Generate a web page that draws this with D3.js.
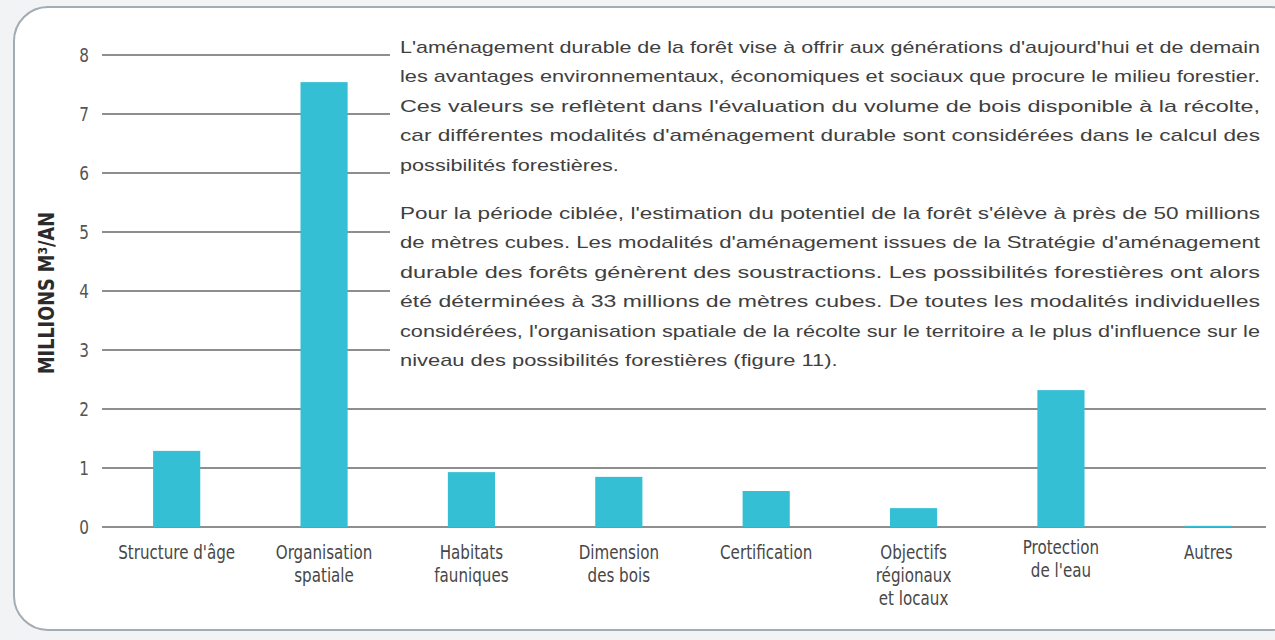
<!DOCTYPE html>
<html><head><meta charset="utf-8">
<script src="https://cdn.jsdelivr.net/npm/d3@7"></script>
<style>
html,body{margin:0;padding:0;background:#f1f3f5;}
svg{display:block;}
</style></head>
<body>
<svg id="chart" width="1275" height="640"></svg>
<script>
// ---- data ----
const categories = ["Structure d'âge", "Organisation spatiale", "Habitats fauniques", "Dimension des bois", "Certification", "Objectifs régionaux et locaux", "Protection de l'eau", "Autres"];
const categoryLines = [["Structure d'âge"], ["Organisation", "spatiale"], ["Habitats", "fauniques"], ["Dimension", "des bois"], ["Certification"], ["Objectifs", "régionaux", "et locaux"], ["Protection", "de l'eau"], ["Autres"]];
const values = [1.29, 7.54, 0.93, 0.85, 0.61, 0.32, 2.32, 0.02];
const yTicks = [0, 1, 2, 3, 4, 5, 6, 7, 8];
const yTitle = "MILLIONS M³/AN";
const paragraph1 = [
  "L'aménagement durable de la forêt vise à offrir aux générations d'aujourd'hui et de demain",
  "les avantages environnementaux, économiques et sociaux que procure le milieu forestier.",
  "Ces valeurs se reflètent dans l'évaluation du volume de bois disponible à la récolte,",
  "car différentes modalités d'aménagement durable sont considérées dans le calcul des",
  "possibilités forestières."
];
const paragraph2 = [
  "Pour la période ciblée, l'estimation du potentiel de la forêt s'élève à près de 50 millions",
  "de mètres cubes. Les modalités d'aménagement issues de la Stratégie d'aménagement",
  "durable des forêts génèrent des soustractions. Les possibilités forestières ont alors",
  "été déterminées à 33 millions de mètres cubes. De toutes les modalités individuelles",
  "considérées, l'organisation spatiale de la récolte sur le territoire a le plus d'influence sur le",
  "niveau des possibilités forestières (figure 11)."
];

const svg = d3.select("#chart");
const condensed = "'Liberation Sans Narrow','Arial Narrow','DejaVu Sans Condensed',sans-serif";

// frame
svg.append("rect").attr("x", 14).attr("y", 7).attr("width", 1290).attr("height", 623)
  .attr("rx", 34).attr("fill", "#ffffff").attr("stroke", "#a3abb3").attr("stroke-width", 2);

const y = d3.scaleLinear().domain([0, 8]).range([527, 55]);
const x = d3.scaleBand().domain(categories).range([103, 1282]).paddingInner(0.68).paddingOuter(0.34);

// grid lines
svg.append("g").selectAll("line").data(yTicks).join("line")
  .attr("x1", 102).attr("x2", 1266)
  .attr("y1", d => y(d)).attr("y2", d => y(d))
  .attr("stroke", "#8e8e8e").attr("stroke-width", 2);

function squeeze(sel, k) {
  sel.each(function () {
    const w = this.getComputedTextLength();
    d3.select(this).attr("textLength", w * k).attr("lengthAdjust", "spacingAndGlyphs");
  });
}

// y tick labels
const ticks = svg.append("g").selectAll("text").data(yTicks).join("text")
  .attr("x", 89).attr("y", d => y(d)).attr("dy", "0.36em")
  .attr("text-anchor", "end")
  .attr("font-family", condensed).attr("font-size", 20).attr("fill", "#555")
  .text(d => d);
squeeze(ticks, 0.85);

// y title
svg.append("text")
  .attr("transform", "translate(54,293) rotate(-90)")
  .attr("text-anchor", "middle")
  .attr("font-family", condensed).attr("font-weight", "bold").attr("font-size", 21).attr("fill", "#2b2b2b")
  .attr("textLength", 162).attr("lengthAdjust", "spacingAndGlyphs")
  .text(yTitle);

// bars
svg.append("g").selectAll("rect").data(categories).join("rect")
  .attr("x", d => x(d)).attr("width", x.bandwidth())
  .attr("y", (d, i) => y(values[i])).attr("height", (d, i) => y(0) - y(values[i]))
  .attr("fill", "#35bfd4");

// category labels
const lab = svg.append("g");
categories.forEach((c, i) => {
  const cx = x(c) + x.bandwidth() / 2;
  const y0 = c === "Protection de l'eau" ? 554 : 559;
  categoryLines[i].forEach((l, j) => {
    const t = lab.append("text")
      .attr("x", cx).attr("y", y0 + j * 23)
      .attr("text-anchor", "middle")
      .attr("font-family", condensed).attr("font-size", 20).attr("fill", "#474747")
      .text(l);
    squeeze(t, 0.84);
  });
});

// text block (covers grid lines)
svg.append("rect").attr("x", 390).attr("y", 30).attr("width", 880).attr("height", 350).attr("fill", "#ffffff");

function drawPara(lines, y0) {
  const left = 400, width = 860, lh = 29.4;
  const g = svg.append("g").attr("font-family", "'Liberation Sans',Arial,sans-serif")
    .attr("font-size", 17).attr("fill", "#404040");
  const nodes = lines.map((l, i) => g.append("text").attr("x", left).attr("y", y0 + i * lh).text(l));
  const scales = [];
  nodes.forEach((n, i) => {
    if (i < lines.length - 1) {
      const w = n.node().getComputedTextLength();
      scales.push(width / w);
      n.attr("textLength", width).attr("lengthAdjust", "spacingAndGlyphs");
    }
  });
  const s = d3.mean(scales) * 0.97;
  const last = nodes[nodes.length - 1];
  const w = last.node().getComputedTextLength();
  last.attr("textLength", w * s).attr("lengthAdjust", "spacingAndGlyphs");
}
drawPara(paragraph1, 53);
drawPara(paragraph2, 219);
</script>
</body></html>
